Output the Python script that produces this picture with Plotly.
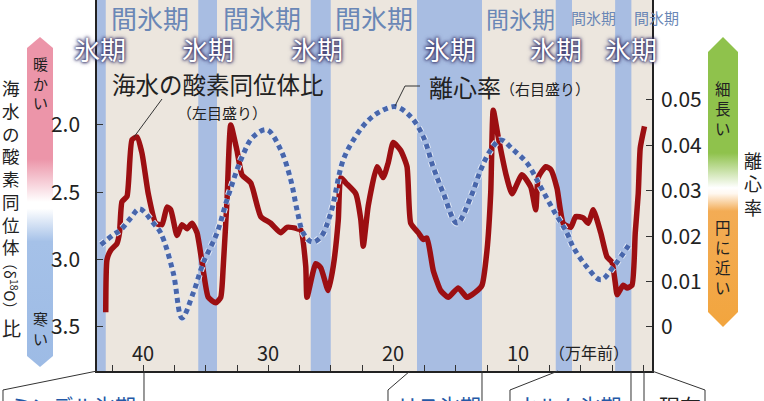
import base64
import plotly.graph_objects as go

# ---------------- data ----------------
# oxygen isotope ratio (left axis), age in 10^4 years before present
age_o18 = [43.0, 42.9, 42.6, 42.1, 41.9, 41.7, 41.3, 40.9, 40.5, 40.1, 39.6, 39.0, 38.5, 38.1,
           37.8, 37.3, 36.9, 36.5, 36.1, 35.7, 35.2, 34.8, 34.2, 33.8, 33.6, 33.3, 33.0, 32.5,
           32.1, 31.4, 30.6, 29.8, 29.0, 28.5, 27.7, 27.4, 27.0, 26.9, 26.2, 25.8, 25.2, 24.8,
           24.4, 24.2, 23.8, 23.0, 22.6, 22.4, 22.0, 21.3, 20.8, 20.4, 20.0, 19.4, 18.9, 18.6,
           18.0, 17.6, 17.3, 16.8, 16.2, 15.6, 14.8, 14.1, 13.4, 12.9, 12.5, 12.2, 12.0, 11.6,
           11.0, 10.5, 9.7, 9.0, 8.6, 8.4, 7.8, 7.4, 6.9, 6.4, 5.8, 5.4, 4.8, 4.4, 4.0, 3.4,
           2.9, 2.5, 2.2, 2.1, 1.6, 1.3, 0.9, 0.64, 0.4, 0.24, -0.1]
d18o = [3.39, 3.00, 2.93, 2.88, 2.80, 2.57, 2.53, 2.11, 2.09, 2.21, 2.51, 2.73, 2.74, 2.61,
        2.63, 2.82, 2.74, 2.77, 2.73, 2.80, 3.08, 3.28, 3.32, 3.28, 3.05, 2.56, 2.00, 2.19,
        2.37, 2.43, 2.68, 2.73, 2.80, 2.76, 2.77, 2.78, 3.05, 3.28, 3.03, 3.06, 3.23, 3.05,
        2.71, 2.39, 2.43, 2.51, 2.70, 2.90, 2.60, 2.31, 2.39, 2.28, 2.13, 2.19, 2.31, 2.73,
        2.80, 2.85, 2.84, 3.08, 3.23, 3.28, 3.21, 3.28, 3.24, 3.19, 2.93, 2.50, 1.89, 2.09,
        2.36, 2.51, 2.37, 2.46, 2.63, 2.39, 2.31, 2.33, 2.47, 2.73, 2.76, 2.68, 2.69, 2.73,
        2.63, 2.80, 2.98, 3.02, 3.20, 3.26, 3.19, 3.21, 3.19, 2.80, 2.51, 2.17, 2.01]

# orbital eccentricity (right axis)
age_ecc = [43.4, 42.4, 41.8, 41.0, 40.3, 39.2, 38.6, 37.6, 36.9, 36.0, 35.2, 34.1, 33.3, 32.1,
           31.2, 30.1, 29.0, 28.2, 27.7, 27.2, 26.5, 25.8, 25.0, 24.0, 23.0, 22.0, 21.0, 19.8,
           18.6, 17.6, 16.8, 16.0, 14.9, 13.8, 13.0, 12.2, 11.4, 10.4, 9.3, 8.2, 7.2, 6.1,
           5.6, 4.5, 3.4, 2.4, 1.0]
ecc = [0.0181, 0.0203, 0.0214, 0.0240, 0.0260, 0.0229, 0.0207, 0.0119, 0.0020, 0.0075, 0.0141,
       0.0207, 0.0280, 0.0374, 0.0419, 0.0434, 0.0390, 0.0324, 0.0258, 0.0207, 0.0187, 0.0198,
       0.0251, 0.0368, 0.0420, 0.0455, 0.0475, 0.0485, 0.0463, 0.0419, 0.0352, 0.0295, 0.0229,
       0.0286, 0.0346, 0.0390, 0.0412, 0.0390, 0.0361, 0.0308, 0.0258, 0.0207, 0.0176, 0.0132,
       0.0104, 0.0132, 0.0187]

# glacial periods (blue bands), ages
glacial_start = [43.7, 35.6, 26.6, 18.1, 7.0, 2.25]
glacial_end = [43.0, 34.1, 25.0, 12.9, 5.7, 0.95]

x_minor_ticks = [0, 2.5, 5, 7.5, 10, 12.5, 15, 17.5, 20, 22.5, 25, 27.5, 30, 32.5, 35, 37.5, 40, 42.5]
x_label_vals = [40, 30, 20, 10]
left_ticks = [2.0, 2.5, 3.0, 3.5]
left_ticktext = ["2.0", "2.5", "3.0", "3.5"]
right_ticks = [0, 0.01, 0.02, 0.03, 0.04, 0.05]
right_ticktext = ["0", "0.01", "0.02", "0.03", "0.04", "0.05"]

# ---------------- geometry helpers (figure pixels -> paper) ----------------
W, H = 764, 401
L, R, T, B = 97, 652, 0, 371


def px(x):
    return (x - L) / (R - L)


def py(y):
    return (B - y) / (B - T)


FONT = "Noto Sans CJK JP, Noto Sans, sans-serif"
DARK = "#222222"

fig = go.Figure()

fig.add_trace(go.Scatter(x=age_o18, y=d18o, mode="lines", yaxis="y",
                         line=dict(color="#9c0f12", width=5.5, shape="spline", smoothing=0.5),
                         hoverinfo="skip", showlegend=False))
fig.add_trace(go.Scatter(x=age_ecc, y=ecc, mode="lines", yaxis="y2",
                         line=dict(color="#dfe7f5", width=7, dash="5px,4px", shape="spline"),
                         hoverinfo="skip", showlegend=False))
fig.add_trace(go.Scatter(x=age_ecc, y=ecc, mode="lines", yaxis="y2",
                         line=dict(color="#4866ab", width=5, dash="5px,4px", shape="spline"),
                         hoverinfo="skip", showlegend=False))

shapes = []
for s, e in zip(glacial_start, glacial_end):
    shapes.append(dict(type="rect", xref="x", yref="paper", x0=s, x1=e, y0=0, y1=1,
                       fillcolor="#a8bde2", line=dict(width=0), layer="below"))


def seg(points, color="#333333", width=1):
    d = "M" + " L".join(f"{px(x):.5f},{py(y):.5f}" for x, y in points)
    shapes.append(dict(type="path", xref="paper", yref="paper", path=d,
                       line=dict(color=color, width=width)))


# leader lines
seg([(162, 99), (134, 137)])
seg([(420, 86), (405, 86), (395, 106)])
# bottom callouts
seg([(97, 371), (3, 390), (3, 402)])
seg([(144, 371), (144, 402)])
seg([(410, 371), (388, 390), (388, 402)])
seg([(482, 371), (482, 402)])
seg([(558, 371), (510, 390), (510, 402)])
seg([(631, 371), (631, 402)])
seg([(644, 371), (644, 402)])
seg([(652, 371), (705, 390), (705, 402)])

ann = []


def text(t, x, y, size, color=DARK, xanchor="center", yanchor="middle", **kw):
    ann.append(dict(text=t, x=px(x), y=py(y), xref="paper", yref="paper", showarrow=False,
                    xanchor=xanchor, yanchor=yanchor,
                    font=dict(family=FONT, size=size, color=color, **kw)))


def vtext(chars, x, y_center, size, color=DARK):
    # vertical writing: one character per line
    text("<br>".join(chars), x, y_center, size, color)


# period labels at top
INTER = "#6a87b6"
for x, s in [(150, 26), (262, 26), (374, 26), (520, 23), (593, 15), (656, 15)]:
    text("間氷期", x, 18, s, INTER)
glow = "0 0 3px #3b376b, 0 0 3px #3b376b, 0 0 5px #3b376b"
for x in [100, 208, 317, 450, 556, 631]:
    text("氷期", x, 49, 26, "white", shadow=glow)

# series labels
text("海水の酸素同位体比", 110, 84, 23.5, xanchor="left")
text("（左目盛り）", 222, 112, 15)
text("離心率", 427, 87, 24, xanchor="left")
text("（右目盛り）", 498, 88, 15, xanchor="left")

# x tick labels inside the plot
for v in x_label_vals:
    ann.append(dict(text=str(v), x=v, y=py(352), xref="x", yref="paper", showarrow=False,
                    xanchor="center", yanchor="middle",
                    font=dict(family=FONT, size=20, color=DARK)))
text("（万年前）", 589, 352, 16)

# left vertical title
vtext(list("海水の酸素同位体"), 11, 167, 17.5)
ann.append(dict(text="（δ<sup>18</sup>O）", x=px(11), y=py(286), xref="paper", yref="paper",
                showarrow=False, textangle=90, xanchor="center", yanchor="middle",
                font=dict(family=FONT, size=15, color=DARK)))
text("比", 11, 327, 19)

# left arrow labels
vtext(list("暖かい"), 40, 83, 15)
vtext(list("寒い"), 40, 328, 15)

# right arrow labels
vtext(list("細長い"), 723, 108, 15.5)
vtext(list("円に近い"), 723, 257, 15.5)
vtext(list("離心率"), 753, 183, 18)

# bottom callout labels (cut by the frame)
BLUE = "#2458a6"
text("ミンデル氷期", 8, 405, 21, BLUE, xanchor="left")
text("リス氷期", 395, 405, 21, BLUE, xanchor="left")
text("ウルム氷期", 515, 405, 21, BLUE, xanchor="left")
text("現在", 657, 405, 21, DARK, xanchor="left")


# gradient arrows as inline SVG images
def arrow_svg(w, h, tip, stops):
    path = f"M{w/2} 0 L{w} {tip} L{w} {h-tip} L{w/2} {h} L0 {h-tip} L0 {tip} Z"
    st = "".join(f'<stop offset="{o}" stop-color="{c}"/>' for o, c in stops)
    svg = (f'<svg xmlns="http://www.w3.org/2000/svg" width="{w}" height="{h}" '
           f'viewBox="0 0 {w} {h}" preserveAspectRatio="none"><defs>'
           f'<linearGradient id="g" x1="0" y1="0" x2="0" y2="1">{st}</linearGradient></defs>'
           f'<path d="{path}" fill="url(#g)"/></svg>')
    return "data:image/svg+xml;base64," + base64.b64encode(svg.encode()).decode()


images = [
    dict(source=arrow_svg(26, 330, 11, [(0, "#ec95a9"), (0.37, "#ec95a9"), (0.50, "#ffffff"),
                                        (0.52, "#ffffff"), (0.62, "#a5c1e8"), (1, "#9dbbe5")]),
         xref="paper", yref="paper", x=px(27), y=py(37), sizex=26 / (R - L), sizey=330 / (B - T),
         xanchor="left", yanchor="top", sizing="stretch", layer="below"),
    dict(source=arrow_svg(30, 290, 15, [(0, "#8fc24c"), (0.40, "#8fc24c"), (0.52, "#ffffff"),
                                        (0.54, "#fff8f0"), (0.60, "#f3ac55"), (1, "#f2a53e")]),
         xref="paper", yref="paper", x=px(708), y=py(37), sizex=30 / (R - L), sizey=290 / (B - T),
         xanchor="left", yanchor="top", sizing="stretch", layer="below"),
]

fig.update_layout(
    width=W, height=H,
    margin=dict(l=L, r=W - R, t=T, b=H - B, pad=0),
    paper_bgcolor="white", plot_bgcolor="#ece6de",
    font=dict(family=FONT, color=DARK),
    showlegend=False,
    shapes=shapes, annotations=ann, images=images,
    xaxis=dict(range=[43.7, -0.7], tickvals=x_minor_ticks, showticklabels=False,
               ticks="inside", ticklen=6, tickcolor="#333", showgrid=False, zeroline=False,
               showline=True, linecolor=DARK, linewidth=1.5, automargin=False),
    yaxis=dict(range=[3.827, 1.072], tickvals=left_ticks, ticktext=left_ticktext,
               ticks="inside", ticklen=6, tickcolor="#333", ticklabelstandoff=11,
               tickfont=dict(size=21, color=DARK), showgrid=False, zeroline=False,
               showline=True, linecolor=DARK, linewidth=1.5, automargin=False),
    yaxis2=dict(range=[-0.00969, 0.0720], tickvals=right_ticks, ticktext=right_ticktext,
                overlaying="y", side="right", ticks="inside", ticklen=6, tickcolor="#333",
                ticklabelstandoff=3, tickfont=dict(size=21, color=DARK), showgrid=False,
                zeroline=False, showline=True, linecolor=DARK, linewidth=1.5, automargin=False),
)

fig.write_html("out.html", config={"displayModeBar": False},
               post_script="document.body.style.margin='0';document.body.style.padding='0';")
